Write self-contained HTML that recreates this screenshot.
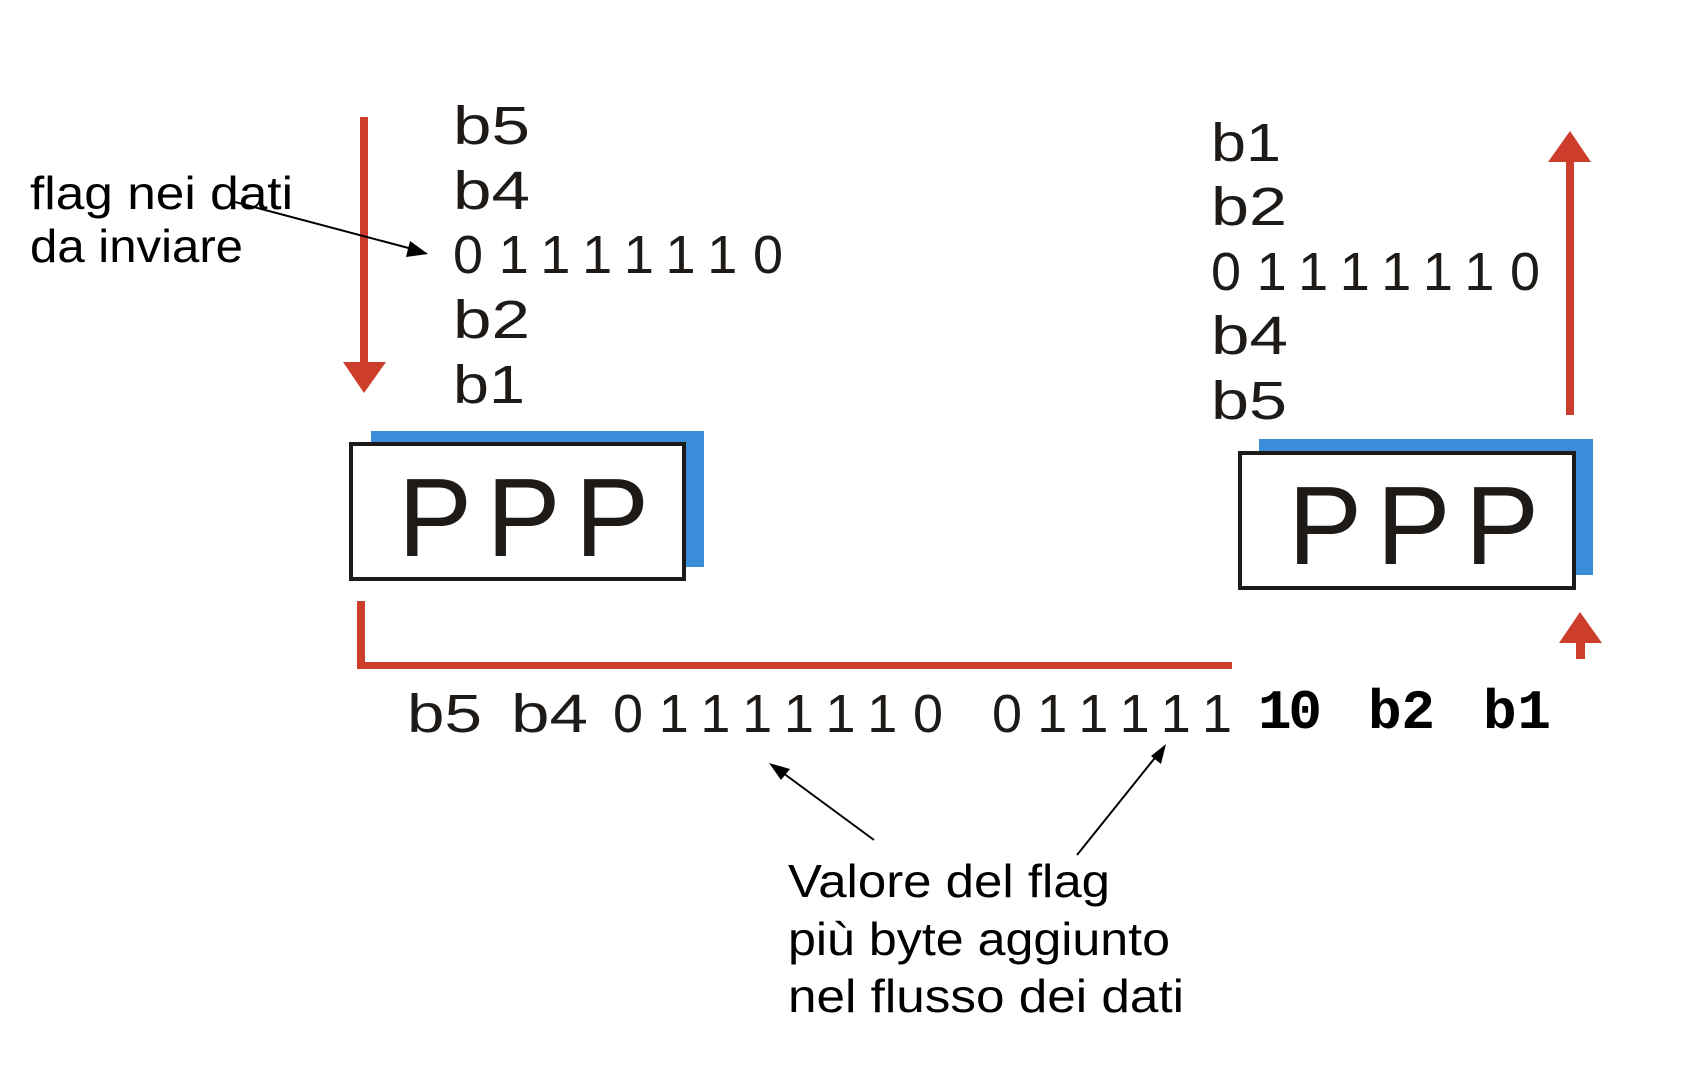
<!DOCTYPE html>
<html><head><meta charset="utf-8"><style>
html,body{margin:0;padding:0;background:#fff;}
svg{display:block;}
.s{font-family:"Liberation Sans",sans-serif;font-size:54px;fill:#1e1a17;}
.p{font-family:"Liberation Sans",sans-serif;font-size:111px;fill:#1e1a17;}
.m{font-family:"Liberation Mono",monospace;font-size:56px;font-weight:bold;fill:#000;}
.c{font-family:"Comic Sans MS","Liberation Sans",sans-serif;font-size:46px;fill:#000;}
</style></head><body>
<svg width="1698" height="1084" viewBox="0 0 1698 1084" xmlns="http://www.w3.org/2000/svg">
<rect x="360" y="117" width="8" height="250" fill="#cc3d2b"/>
<polygon points="343,362 386,362 364,393" fill="#cc3d2b"/>
<text class="s" x="453" y="144" textLength="77" lengthAdjust="spacingAndGlyphs">b5</text>
<text class="s" x="453" y="209" textLength="77" lengthAdjust="spacingAndGlyphs">b4</text>
<text class="s" x="453" y="273" textLength="330" lengthAdjust="spacing">01111110</text>
<text class="s" x="453" y="338" textLength="77" lengthAdjust="spacingAndGlyphs">b2</text>
<text class="s" x="453" y="403" textLength="72" lengthAdjust="spacingAndGlyphs">b1</text>
<text class="c" x="30" y="209" textLength="263" lengthAdjust="spacingAndGlyphs">flag nei dati</text>
<text class="c" x="30" y="262" textLength="213" lengthAdjust="spacingAndGlyphs">da inviare</text>
<line x1="235" y1="202" x2="416" y2="250" stroke="#000" stroke-width="2"/>
<polygon points="428,254 410,241 406,257" fill="#000"/>
<rect x="371" y="431" width="333" height="136" fill="#3a8dd9"/>
<rect x="351" y="444" width="333" height="135" fill="#fff" stroke="#1e1a17" stroke-width="4"/>
<text class="p" x="398" y="556" textLength="251" lengthAdjust="spacing">PPP</text>
<rect x="357" y="601" width="8" height="68" fill="#cc3d2b"/>
<rect x="357" y="662" width="875" height="7" fill="#cc3d2b"/>
<text class="s" x="407" y="732" textLength="75" lengthAdjust="spacingAndGlyphs">b5</text>
<text class="s" x="511" y="732" textLength="77" lengthAdjust="spacingAndGlyphs">b4</text>
<text class="s" x="613" y="732" textLength="330" lengthAdjust="spacing">01111110</text>
<text class="s" x="992" y="732" textLength="240" lengthAdjust="spacing">011111</text>
<text class="m" x="1258" y="728" textLength="64" lengthAdjust="spacing">10</text>
<text class="m" x="1368" y="728" textLength="67" lengthAdjust="spacing">b2</text>
<text class="m" x="1483" y="728" textLength="68" lengthAdjust="spacing">b1</text>
<line x1="874" y1="840" x2="779" y2="770" stroke="#000" stroke-width="2"/>
<polygon points="769,763 790,769 781,780" fill="#000"/>
<line x1="1077" y1="855" x2="1158" y2="754" stroke="#000" stroke-width="2"/>
<polygon points="1166,744 1161,764 1151,756" fill="#000"/>
<text class="c" x="788" y="897" textLength="322" lengthAdjust="spacingAndGlyphs">Valore del flag</text>
<text class="c" x="788" y="955" textLength="382" lengthAdjust="spacingAndGlyphs">più byte aggiunto</text>
<text class="c" x="788" y="1012" textLength="396" lengthAdjust="spacingAndGlyphs">nel flusso dei dati</text>
<text class="s" x="1211" y="161" textLength="70" lengthAdjust="spacingAndGlyphs">b1</text>
<text class="s" x="1211" y="225" textLength="76" lengthAdjust="spacingAndGlyphs">b2</text>
<text class="s" x="1211" y="290" textLength="329" lengthAdjust="spacing">01111110</text>
<text class="s" x="1211" y="354" textLength="77" lengthAdjust="spacingAndGlyphs">b4</text>
<text class="s" x="1211" y="419" textLength="76" lengthAdjust="spacingAndGlyphs">b5</text>
<rect x="1566" y="158" width="8" height="257" fill="#cc3d2b"/>
<polygon points="1548,162 1591,162 1570,131" fill="#cc3d2b"/>
<rect x="1259" y="439" width="334" height="136" fill="#3a8dd9"/>
<rect x="1240" y="453" width="334" height="135" fill="#fff" stroke="#1e1a17" stroke-width="4"/>
<text class="p" x="1288" y="564" textLength="251" lengthAdjust="spacing">PPP</text>
<rect x="1576" y="640" width="9" height="19" fill="#cc3d2b"/>
<polygon points="1559,643 1602,643 1580,612" fill="#cc3d2b"/>
</svg>
</body></html>
